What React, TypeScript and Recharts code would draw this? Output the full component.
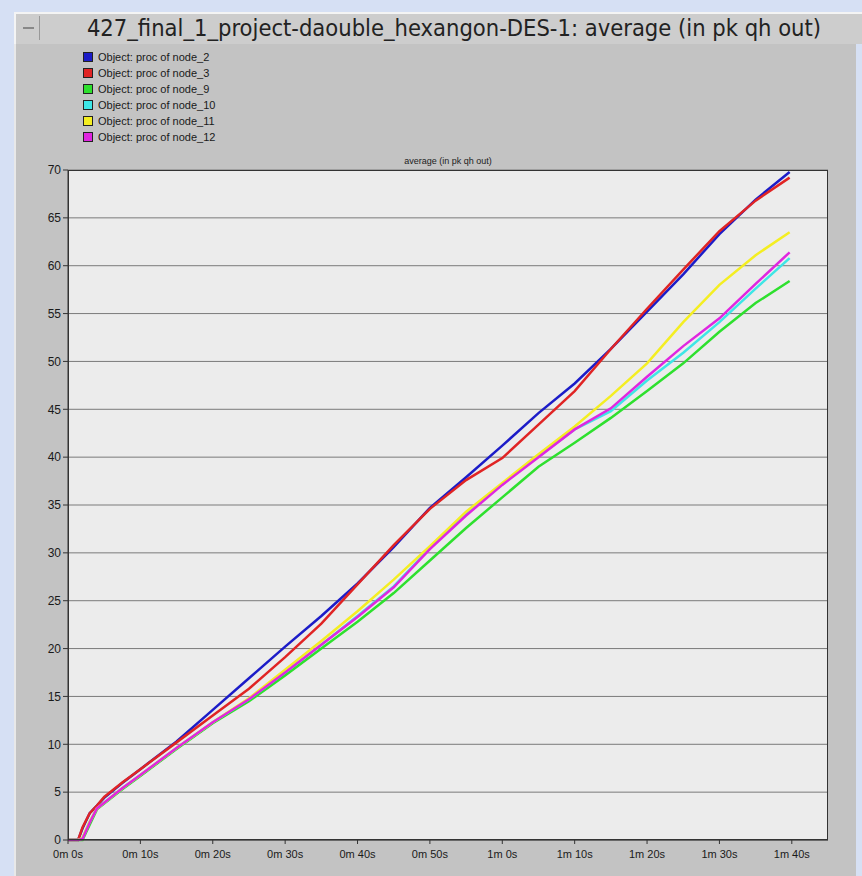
import React from 'react';
import { LineChart, Line, XAxis, YAxis, CartesianGrid, Legend } from 'recharts';

// simulation time in seconds
const TIME_S = [0, 1.4, 2, 3, 4, 5, 7.5, 10, 15, 20, 25, 30, 35, 40, 45, 50, 55, 60, 65, 70, 75, 80, 85, 90, 95, 99.7];

const NODE_2 = [0, 0, 1.2, 2.8, 3.6, 4.4, 5.95, 7.4, 10.3, 13.6, 16.9, 20.2, 23.4, 26.8, 30.6, 34.7, 37.9, 41.2, 44.6, 47.7, 51.3, 55.2, 59.1, 63.3, 66.9, 69.8];
const NODE_3 = [0, 0, 1.3, 2.8, 3.6, 4.5, 6.0, 7.4, 10.2, 13.0, 15.8, 19.1, 22.6, 26.7, 30.8, 34.6, 37.6, 39.9, 43.4, 46.9, 51.3, 55.5, 59.6, 63.6, 66.8, 69.2];
const NODE_9 = [0, 0, 0, 1.6, 3.2, 3.8, 5.3, 6.7, 9.5, 12.2, 14.5, 17.2, 20.0, 22.8, 25.8, 29.2, 32.6, 35.8, 39.0, 41.5, 44.1, 46.9, 49.8, 53.1, 56.1, 58.4];
const NODE_10 = [0, 0, 0.2, 1.9, 3.3, 3.9, 5.4, 6.8, 9.6, 12.3, 14.7, 17.5, 20.4, 23.4, 26.5, 30.5, 34.0, 37.2, 40.1, 42.9, 44.8, 48.0, 50.9, 54.1, 57.6, 60.8];
const NODE_11 = [0, 0, 0.2, 1.9, 3.3, 3.9, 5.4, 6.8, 9.6, 12.3, 14.8, 17.8, 20.8, 23.9, 27.2, 30.7, 34.3, 37.3, 40.3, 43.2, 46.4, 49.8, 54.1, 58.0, 61.1, 63.5];
const NODE_12 = [0, 0, 0.1, 1.8, 3.3, 3.9, 5.4, 6.8, 9.6, 12.3, 14.7, 17.5, 20.4, 23.3, 26.4, 30.4, 33.9, 37.1, 40.0, 42.9, 45.1, 48.4, 51.6, 54.5, 58.1, 61.4];

const SERIES = [
  { key: 'node_2', name: 'Object: proc of node_2', color: '#1c1cc8', values: NODE_2 },
  { key: 'node_3', name: 'Object: proc of node_3', color: '#e02424', values: NODE_3 },
  { key: 'node_9', name: 'Object: proc of node_9', color: '#2ee02e', values: NODE_9 },
  { key: 'node_10', name: 'Object: proc of node_10', color: '#3ee6e6', values: NODE_10 },
  { key: 'node_11', name: 'Object: proc of node_11', color: '#f4ee22', values: NODE_11 },
  { key: 'node_12', name: 'Object: proc of node_12', color: '#e026e0', values: NODE_12 },
];

const X_TICKS = [0, 10, 20, 30, 40, 50, 60, 70, 80, 90, 100];
const Y_TICKS = [0, 5, 10, 15, 20, 25, 30, 35, 40, 45, 50, 55, 60, 65, 70];

const data = TIME_S.map((t, i) => {
  const row: any = { t };
  SERIES.forEach((s) => (row[s.key] = s.values[i]));
  return row;
});

const fmtTime = (v: number) => `${Math.floor(v / 60)}m ${v % 60}s`;

const FONT = '"Liberation Sans", Arial, sans-serif';

const order = (name: string) => SERIES.findIndex((s) => s.name === name);

const LegendBox = ({ payload }: any) => (
  <div style={{ fontFamily: FONT, fontSize: 11, color: '#1a1a1a' }}>
    {[...(payload || [])]
      .sort((a: any, b: any) => order(a.value) - order(b.value))
      .map((p: any) => (
        <div key={p.value} style={{ height: 16, display: 'flex', alignItems: 'center', whiteSpace: 'nowrap' }}>
          <span style={{ width: 8, height: 8, background: p.color, border: '1px solid #222', marginRight: 5 }} />
          {p.value}
        </div>
      ))}
  </div>
);

export default function App() {
  return (
    <div style={{ position: 'absolute', left: 0, top: 0, width: 862, height: 876, background: '#d6e0f4', overflow: 'hidden' }}>
      {/* window title bar */}
      <div style={{ position: 'absolute', left: 14, top: 12, width: 848, height: 32, background: '#cdcdcd', borderTop: '2px solid #f4f4f4', borderLeft: '2px solid #f4f4f4', boxSizing: 'border-box' }}>
        <div style={{ position: 'absolute', left: 2, top: 2, width: 22, height: 24, borderRight: '1px solid #999', boxSizing: 'border-box' }}>
          <div style={{ position: 'absolute', left: 5, top: 11, width: 11, height: 2, background: '#888' }} />
        </div>
        <div style={{ position: 'absolute', left: 30, right: 0, top: 0, textAlign: 'center', fontFamily: '"DejaVu Sans Condensed", "DejaVu Sans", sans-serif', fontSize: 23.5, color: '#222', whiteSpace: 'nowrap' }}>
          427_final_1_project-daouble_hexangon-DES-1: average (in pk qh out)
        </div>
      </div>
      {/* graph panel */}
      <div style={{ position: 'absolute', left: 14, top: 44, width: 842, height: 832, background: '#c3c3c3', borderLeft: '2px solid #e8e8e8', boxSizing: 'border-box' }} />
      <div style={{ position: 'absolute', left: 68, top: 156, width: 760, textAlign: 'center', fontFamily: FONT, fontSize: 9, color: '#222' }}>
        average (in pk qh out)
      </div>
      <div style={{ position: 'absolute', left: 0, top: 0 }}>
        <LineChart width={862} height={876} data={data} margin={{ top: 170, right: 34, bottom: 4, left: 18 }}>
          <CartesianGrid vertical={false} stroke="#7a7a7a" fill="#ececec" fillOpacity={1} />
          <XAxis
            dataKey="t"
            type="number"
            domain={[0, 105]}
            ticks={X_TICKS}
            tickFormatter={fmtTime}
            height={32}
            stroke="#333"
            tickSize={4}
            tickMargin={6}
            tick={{ fill: '#1a1a1a', fontSize: 11, fontFamily: FONT }}
          />
          <YAxis
            type="number"
            domain={[0, 70]}
            ticks={Y_TICKS}
            width={50}
            stroke="#333"
            tickSize={5}
            tick={{ fill: '#1a1a1a', fontSize: 12, fontFamily: FONT }}
          />
          <Legend
            layout="vertical"
            align="center"
            verticalAlign="middle"
            wrapperStyle={{ left: 83, top: 49, width: 200 }}
            content={<LegendBox />}
          />
          {SERIES.map((s) => (
            <Line
              key={s.key}
              dataKey={s.key}
              name={s.name}
              stroke={s.color}
              strokeWidth={2.5}
              dot={false}
              type="linear"
              isAnimationActive={false}
            />
          ))}
        </LineChart>
      </div>
      {/* plot frame */}
      <div style={{ position: 'absolute', left: 68, top: 170, width: 760, height: 670, border: '1px solid #333', boxSizing: 'border-box', pointerEvents: 'none' }} />
    </div>
  );
}
